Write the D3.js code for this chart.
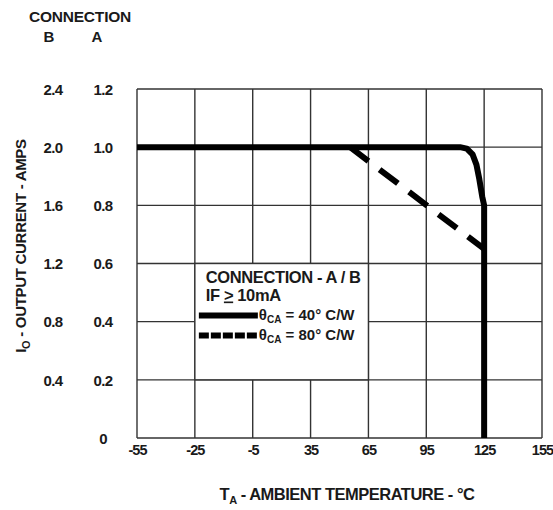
<!DOCTYPE html>
<html>
<head>
<meta charset="utf-8">
<script src="https://cdn.jsdelivr.net/npm/d3@7"></script>
<style>
  html, body { margin: 0; padding: 0; background: #fff; }
  svg { display: block; }
  text { font-family: "Liberation Sans", Arial, sans-serif; fill: #1a1a1a; }
</style>
</head>
<body>
<svg id="chart" width="553" height="510"></svg>
<script>
// ---- data ----
const xTicks = [-55, -25, -5, 35, 65, 95, 125, 155];
const yTicksA = [0, 0.2, 0.4, 0.6, 0.8, 1.0, 1.2];
const yLabelsA = ["0", "0.2", "0.4", "0.6", "0.8", "1.0", "1.2"];
const yLabelsB = ["", "0.4", "0.8", "1.2", "1.6", "2.0", "2.4"];
// theta_CA = 40 C/W (solid)
const solidTemp = [-55, 112.5, 116, 119, 121, 122.5, 124, 125, 125];
const solidAmps = [1.0, 1.0, 0.995, 0.975, 0.94, 0.89, 0.83, 0.80, 0];
// theta_CA = 80 C/W (dashed)
const dashTemp = [55.5, 125];
const dashAmps = [1.0, 0.65];

// ---- layout ----
const pLeft = 137, pRight = 542, pTop = 89, pBottom = 438;
const svg = d3.select("#chart");

const x = d3.scaleLinear()
  .domain(xTicks)
  .range(xTicks.map((d, i) => pLeft + i * (pRight - pLeft) / (xTicks.length - 1)));
const y = d3.scaleLinear().domain([0, 1.2]).range([pBottom, pTop]);

// grid
const grid = svg.append("g").attr("stroke", "#333").attr("stroke-width", 1.4);
grid.selectAll("line.v").data(xTicks).enter().append("line")
  .attr("x1", d => x(d)).attr("x2", d => x(d))
  .attr("y1", pTop).attr("y2", pBottom);
grid.selectAll("line.h").data(yTicksA).enter().append("line")
  .attr("x1", pLeft).attr("x2", pRight)
  .attr("y1", d => y(d)).attr("y2", d => y(d));

// axes (labels only)
const axA = d3.axisLeft(y).tickValues(yTicksA).tickSize(0)
  .tickFormat((d, i) => yLabelsA[i]);
const gA = svg.append("g").attr("transform", `translate(${pLeft},0)`).call(axA);
const axB = d3.axisLeft(y).tickValues(yTicksA).tickSize(0)
  .tickFormat((d, i) => yLabelsB[i]);
const gB = svg.append("g").attr("transform", `translate(${pLeft},0)`).call(axB);
const axX = d3.axisBottom(x).tickValues(xTicks).tickSize(0)
  .tickFormat(d => String(d));
const gX = svg.append("g").attr("transform", `translate(0,${pBottom})`).call(axX);

[gA, gB, gX].forEach(g => {
  g.select(".domain").remove();
  g.selectAll("text")
    .attr("font-family", "Liberation Sans, Arial, sans-serif")
    .attr("font-size", 15).attr("font-weight", "bold")
    .attr("fill", "#1a1a1a").attr("text-anchor", "middle")
    .attr("letter-spacing", -0.6);
});
gA.selectAll("text").attr("x", -34).attr("dy", "0.35em");
gB.selectAll("text").attr("x", -84).attr("dy", "0.35em");
gX.selectAll("text").attr("y", 7).attr("dy", "0.71em").attr("font-size", 14.5).attr("letter-spacing", -0.9);

// header
svg.append("text").attr("x", 80).attr("y", 22).attr("text-anchor", "middle")
  .attr("font-size", 15.5).attr("font-weight", "bold").attr("letter-spacing", -0.2)
  .text("CONNECTION");
svg.append("text").attr("x", 49).attr("y", 42).attr("text-anchor", "middle")
  .attr("font-size", 15).attr("font-weight", "bold").text("B");
svg.append("text").attr("x", 97).attr("y", 42).attr("text-anchor", "middle")
  .attr("font-size", 15).attr("font-weight", "bold").text("A");

// axis titles
const yt = svg.append("text")
  .attr("transform", "translate(26,246) rotate(-90)")
  .attr("text-anchor", "middle").attr("font-size", 15).attr("font-weight", "bold")
  .attr("letter-spacing", -0.3);
yt.append("tspan").text("I");
yt.append("tspan").attr("font-size", 11).attr("dy", 4).text("O");
yt.append("tspan").attr("dy", -4).text(" - OUTPUT CURRENT - AMPS");

const xt = svg.append("text").attr("x", 347).attr("y", 500)
  .attr("text-anchor", "middle").attr("font-size", 16.5).attr("font-weight", "bold")
  .attr("letter-spacing", -0.5);
xt.append("tspan").text("T");
xt.append("tspan").attr("font-size", 11).attr("dy", 4).text("A");
xt.append("tspan").attr("dy", -4).text(" - AMBIENT TEMPERATURE - °C");

// curves
const line = d3.line().x(d => x(d[0])).y(d => y(d[1]));
svg.append("path")
  .datum(dashTemp.map((t, i) => [t, dashAmps[i]]))
  .attr("d", line).attr("fill", "none").attr("stroke", "#000")
  .attr("stroke-width", 6).attr("stroke-dasharray", "23,14");
svg.append("path")
  .datum(solidTemp.map((t, i) => [t, solidAmps[i]]))
  .attr("d", line).attr("fill", "none").attr("stroke", "#000")
  .attr("stroke-width", 6).attr("stroke-linejoin", "round");

// legend box
const lx0 = x(-25), lx1 = x(65), ly0 = y(0.6), ly1 = y(0.2);
svg.append("rect").attr("x", lx0).attr("y", ly0)
  .attr("width", lx1 - lx0).attr("height", ly1 - ly0)
  .attr("fill", "#fff").attr("stroke", "#333").attr("stroke-width", 1.4);
const lg = svg.append("g").attr("font-size", 16.5).attr("font-weight", "bold");
lg.append("text").attr("x", lx0 + 11).attr("y", ly0 + 19)
  .attr("letter-spacing", -0.4).text("CONNECTION - A / B");
const t2 = lg.append("text").attr("x", lx0 + 11).attr("y", ly0 + 37).attr("letter-spacing", -0.4);
t2.append("tspan").text("IF ");
t2.append("tspan").attr("text-decoration", "underline").text(">");
t2.append("tspan").text(" 10mA");
// legend lines
lg.append("line").attr("x1", lx0 + 4).attr("x2", lx0 + 63)
  .attr("y1", ly0 + 52).attr("y2", ly0 + 52)
  .attr("stroke", "#000").attr("stroke-width", 6);
lg.append("line").attr("x1", lx0 + 4).attr("x2", lx0 + 63)
  .attr("y1", ly0 + 72).attr("y2", ly0 + 72)
  .attr("stroke", "#000").attr("stroke-width", 6).attr("stroke-dasharray", "10,2");
const lt1 = lg.append("text").attr("x", lx0 + 64).attr("y", ly0 + 56)
  .attr("font-size", 15).attr("letter-spacing", 0);
lt1.append("tspan").text("θ");
lt1.append("tspan").attr("font-size", 10).attr("dy", 3).text("CA");
lt1.append("tspan").attr("dy", -3).text(" = 40° C/W");
const lt2 = lg.append("text").attr("x", lx0 + 64).attr("y", ly0 + 76)
  .attr("font-size", 15).attr("letter-spacing", 0);
lt2.append("tspan").text("θ");
lt2.append("tspan").attr("font-size", 10).attr("dy", 3).text("CA");
lt2.append("tspan").attr("dy", -3).text(" = 80° C/W");
</script>
</body>
</html>
